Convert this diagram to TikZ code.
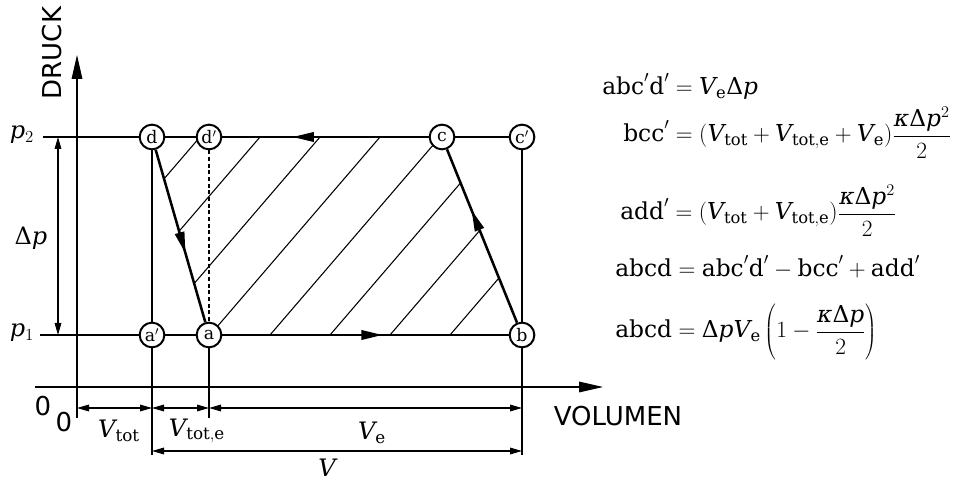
\RequirePackage{fix-cm}
\documentclass[tikz,border=0pt]{standalone}
\usepackage{fontspec}
\setmainfont{DejaVu Serif}
\newfontfamily\axisfont{DejaVu Sans}
\usetikzlibrary{arrows.meta,decorations.markings}
\newcommand{\vol}{\mathit{V}}
\newcommand{\pv}{\mathit{p}}
\newcommand{\Dl}{\mbox{Δ}}
\newcommand{\kap}{\mbox{\itshape κ}}

\begin{document}
\begin{tikzpicture}[x=0.75pt, y=0.75pt, every node/.style={font=\fontsize{18}{21}\selectfont},
  thin line/.style={line width=0.8pt},
  cycle line/.style={line width=1.9pt},
  pnt/.style={draw,line width=1.5pt,fill=white,circle,inner sep=0pt,minimum size=18.5pt,font=\fontsize{13}{13}\selectfont},
  midarrow/.style={postaction={decorate},decoration={markings,mark=at position #1 with {\arrow{Triangle[length=16pt,width=7pt]}}}},
  dim/.style={line width=0.8pt,{Triangle[length=9pt,width=5pt]}-{Triangle[length=9pt,width=5pt]}},
  axisarrow/.style={line width=0.8pt,-{Triangle[length=18pt,width=8pt]}},
  axislabel/.style={font=\axisfont\fontsize{19.5}{22}\selectfont},
  eq/.style={anchor=base west,inner sep=0pt,font=\fontsize{17.5}{21}\selectfont}]
  \useasboundingbox (0,0) rectangle (978,482);
  % Hatching
  \begin{scope}
    \clip (209,147) -- (522,147) -- (442,345) -- (152,345) -- cycle;
    \foreach \x in {30,90,...,510} \draw[thin line] (\x,147) -- ++(170,198);
  \end{scope}
  % Points
  \node[pnt] (d) at (152,345) {d};
  \node[pnt] (dd) at (209,345) {d$'$};
  \node[pnt] (c) at (442,345) {c};
  \node[pnt] (cc) at (522,345) {c$'$};
  \node[pnt] (aa) at (152,147) {a$'$};
  \node[pnt] (a) at (209,147) {a};
  \node[pnt] (b) at (522,147) {b};
  % Axes
  \coordinate (yb) at (77,64); \coordinate (yt) at (77,427);
  \coordinate (xl) at (35,95); \coordinate (xr) at (603,95);
  \draw[axisarrow] (yb) -- (yt);
  \draw[axisarrow] (xl) -- (xr);
  \node[axislabel,rotate=90] (druck) at (52,429) {DRUCK};
  \node[axislabel] (volumen) at (618,66) {VOLUMEN};
  \node[axislabel] (nullx) at (43,76) {0};
  \node[axislabel] (nully) at (64,60) {0};
  % Pressure levels
  \coordinate (ptop) at (43,345); \coordinate (pbot) at (40,147);
  \draw[thin line] (ptop) -- (d); \draw[thin line] (c) -- (cc);
  \draw[thin line] (pbot) -- (aa); \draw[thin line] (aa) -- (a);
  \node (ptwo) at (22,347) {$\pv_2$};
  \node (pone) at (22,149) {$\pv_1$};
  \coordinate (dptop) at (58,345); \coordinate (dpbot) at (58,147);
  \draw[dim] (dptop) -- (dpbot);
  \node (dp) at (31,244) {$\Dl\pv$};
  % Volume lines
  \coordinate (vl) at (152,27); \coordinate (vm) at (209,64); \coordinate (vr) at (522,27);
  \draw[thin line] (d) -- (aa); \draw[thin line] (aa) -- (vl);
  \draw[thin line,dash pattern=on 3pt off 2pt] (dd) -- (a);
  \draw[thin line] (a) -- (vm);
  \draw[thin line] (cc) -- (b); \draw[thin line] (b) -- (vr);
  % Cycle
  \draw[cycle line,midarrow=0.56] (a) -- (b);
  \draw[cycle line,midarrow=0.65] (b) -- (c);
  \draw[cycle line,midarrow=0.66] (c) -- (dd);
  \draw[cycle line] (dd) -- (d);
  \draw[cycle line,midarrow=0.6] (d) -- (a);
  % Dimensions
  \coordinate (m0) at (77,74); \coordinate (m1) at (152,74);
  \coordinate (m2) at (209,74); \coordinate (m3) at (522,74);
  \coordinate (n1) at (152,31); \coordinate (n3) at (522,31);
  \draw[dim] (m0) -- (m1); \draw[dim] (m1) -- (m2); \draw[dim] (m2) -- (m3);
  \draw[dim] (n1) -- (n3);
  \node (vtot) at (119,51) {$\vol_{\mathrm{tot}}$};
  \node (vtote) at (197,51) {$\vol_{\mathrm{tot{,}e}}$};
  \node (ve) at (372,49) {$\vol_{\mathrm{e}}$};
  \node (v) at (327,14) {$\vol$};
  % Equations
  \node[eq] (eqa) at (602,387) {$\mathrm{abc'd'} = \vol_{\mathrm{e}}\Dl\pv$};
  \node[eq] (eqb) at (623,340) {$\displaystyle \mathrm{bcc'} = \big(\vol_{\mathrm{tot}} + \vol_{\mathrm{tot{,}e}} + \vol_{\mathrm{e}}\big)\frac{\kap\Dl\pv^2}{2}$};
  \node[eq] (eqc) at (620,262) {$\displaystyle \mathrm{add'} = \big(\vol_{\mathrm{tot}} + \vol_{\mathrm{tot{,}e}}\big)\frac{\kap\Dl\pv^2}{2}$};
  \node[eq] (eqd) at (615,205) {$\mathrm{abcd} = \mathrm{abc'd'} - \mathrm{bcc'} + \mathrm{add'}$};
  \node[eq] (eqe) at (615,144) {$\displaystyle \mathrm{abcd} = \Dl\pv\vol_{\mathrm{e}}\left(1 - \frac{\kap\Dl\pv}{2}\right)$};
\end{tikzpicture}
\end{document}
